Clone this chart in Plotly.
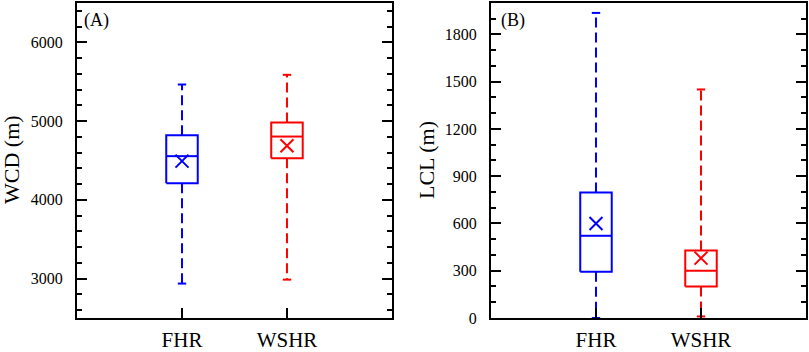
import plotly.graph_objects as go

categories = ["FHR", "WSHR"]
colors = ["#0000ff", "#ff0000"]

# Panel A: WCD (m)
wcd_lower = [2937, 2987]
wcd_q1 = [4210, 4530]
wcd_median = [4555, 4804]
wcd_q3 = [4820, 4983]
wcd_upper = [5465, 5588]
wcd_mean = [4492, 4688]

# Panel B: LCL (m)
lcl_lower = [0, 10]
lcl_q1 = [293, 200]
lcl_median = [522, 300]
lcl_q3 = [796, 428]
lcl_upper = [1937, 1451]
lcl_mean = [600, 380]

FONT = "Liberation Serif, Times New Roman, serif"
HALF_W = 0.15
CAP_W = 0.04

fig = go.Figure()


def add_boxes(xa, ya, lower, q1, med, q3, upper, mean):
    for i, cat in enumerate(categories):
        x = i + 1
        c = colors[i]
        line = dict(color=c, width=2)
        dline = dict(color=c, width=2, dash="10px,5px")
        kw = dict(xaxis=xa, yaxis=ya, mode="lines", showlegend=False, hoverinfo="skip")
        # whiskers
        fig.add_trace(go.Scatter(x=[x, x], y=[q3[i], upper[i]], line=dline, **kw))
        fig.add_trace(go.Scatter(x=[x, x], y=[q1[i], lower[i]], line=dline, **kw))
        # caps
        fig.add_trace(go.Scatter(x=[x - CAP_W, x + CAP_W], y=[upper[i], upper[i]], line=line, **kw))
        fig.add_trace(go.Scatter(x=[x - CAP_W, x + CAP_W], y=[lower[i], lower[i]], line=line, **kw))
        # box
        fig.add_trace(go.Scatter(
            x=[x - HALF_W, x + HALF_W, x + HALF_W, x - HALF_W, x - HALF_W],
            y=[q1[i], q1[i], q3[i], q3[i], q1[i]],
            fill="toself", fillcolor="white", line=line, **kw))
        # median
        fig.add_trace(go.Scatter(x=[x - HALF_W, x + HALF_W], y=[med[i], med[i]], line=line, **kw))
        # mean
        fig.add_trace(go.Scatter(
            x=[x], y=[mean[i]], mode="markers", xaxis=xa, yaxis=ya,
            marker=dict(symbol="x-thin-open", size=13, color=c, line=dict(color=c, width=2)),
            showlegend=False, hoverinfo="skip"))


add_boxes("x", "y", wcd_lower, wcd_q1, wcd_median, wcd_q3, wcd_upper, wcd_mean)
add_boxes("x2", "y2", lcl_lower, lcl_q1, lcl_median, lcl_q3, lcl_upper, lcl_mean)

xcommon = dict(
    range=[0, 3], tickvals=[1, 2], ticktext=categories,
    showline=True, linecolor="black", linewidth=2, mirror=True,
    ticks="inside", ticklen=10, tickwidth=2, tickcolor="black",
    showgrid=False, zeroline=False, automargin=False,
    tickfont=dict(family=FONT, size=21, color="black"),
    ticklabelstandoff=2,
)
ycommon = dict(
    showline=True, linecolor="black", linewidth=2, mirror="ticks",
    ticks="inside", ticklen=10, tickwidth=2, tickcolor="black",
    showgrid=False, zeroline=False, automargin=False,
    tickfont=dict(family=FONT, size=16, color="black"),
    ticklabelstandoff=9,
)

fig.update_layout(
    width=809, height=352,
    margin=dict(l=0, r=0, t=0, b=0),
    paper_bgcolor="white", plot_bgcolor="white",
    font=dict(family=FONT, color="black"),
    xaxis=dict(domain=[0.0952, 0.4845], anchor="y", **xcommon),
    xaxis2=dict(domain=[0.6069, 0.9963], anchor="y2", **xcommon),
    yaxis=dict(domain=[0.0966, 0.9915], anchor="x", range=[2500, 6500],
               tickvals=[3000, 4000, 5000, 6000],
               minor=dict(dtick=200, ticks="inside", ticklen=5, tickwidth=1.5, tickcolor="black"),
               **ycommon),
    yaxis2=dict(domain=[0.0966, 0.9915], anchor="x2", range=[0, 2000],
                tickvals=[0, 300, 600, 900, 1200, 1500, 1800],
                minor=dict(dtick=100, ticks="inside", ticklen=5, tickwidth=1.5, tickcolor="black"),
                **ycommon),
    annotations=[
        dict(text="WCD (m)", x=11 / 809, y=1 - 160 / 352, xref="paper", yref="paper", showarrow=False,
             xanchor="center", yanchor="middle",
             textangle=-90, font=dict(family=FONT, size=22, color="black")),
        dict(text="LCL (m)", x=426 / 809, y=1 - 160 / 352, xref="paper", yref="paper", showarrow=False,
             xanchor="center", yanchor="middle",
             textangle=-90, font=dict(family=FONT, size=22, color="black")),
        dict(text="(A)", x=0.0952, y=0.9915, xref="paper", yref="paper", showarrow=False,
             xanchor="left", yanchor="top", xshift=5, yshift=-5,
             font=dict(family=FONT, size=18, color="black")),
        dict(text="(B)", x=0.6069, y=0.9915, xref="paper", yref="paper", showarrow=False,
             xanchor="left", yanchor="top", xshift=8, yshift=-5,
             font=dict(family=FONT, size=18, color="black")),
    ],
)

fig.write_html("out.html", config={"displayModeBar": False},
               post_script="document.body.style.margin='0';document.body.style.overflow='hidden';")
